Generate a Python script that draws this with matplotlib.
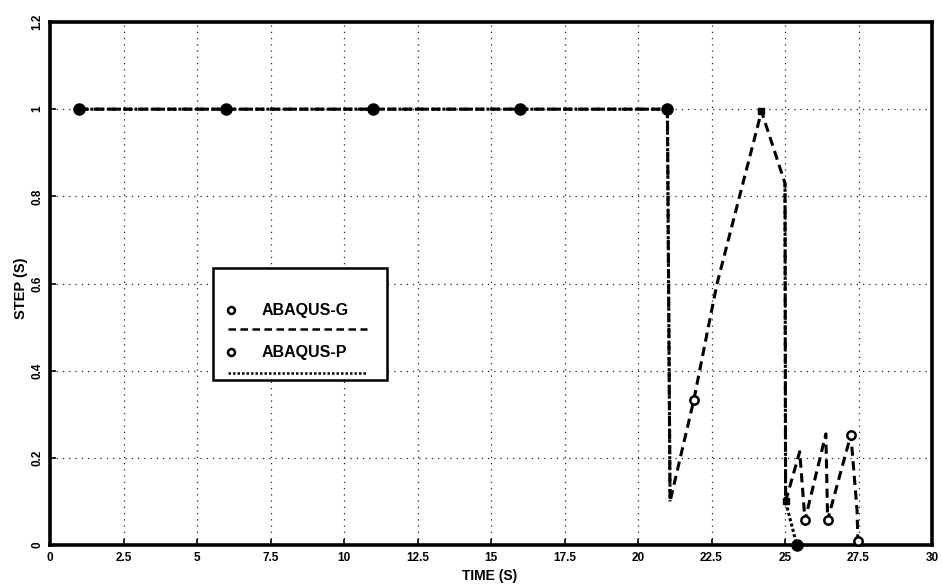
import numpy as np
import matplotlib
matplotlib.use("Agg")
import matplotlib.pyplot as plt
from matplotlib.lines import Line2D
from matplotlib.patches import Rectangle

plt.rcParams['font.family'] = ['Liberation Sans', 'DejaVu Sans']
plt.rcParams['font.weight'] = 'bold'

# ABAQUS-G response (dashed)
time_g = [1, 6, 11, 16, 21, 21.09, 21.9, 22.45, 22.69, 24.2, 25.0, 25.02,
          25.5, 25.68, 26.39, 26.45, 27.24, 27.45, 27.48]
step_g = [1.0, 1.0, 1.0, 1.0, 1.0, 0.10, 0.333, 0.52, 0.60, 0.995, 0.83, 0.10,
          0.214, 0.057, 0.255, 0.057, 0.253, 0.08, 0.01]
marks_g = [6, 13, 15, 16, 18]   # hollow circle markers
square_g = [9, 11]              # small square markers

# ABAQUS-P response (dotted); NaN separates the two traced pieces
time_p = [1, 6, 11, 16, 21, 21.09, np.nan, 25.0, 25.02, 25.4]
step_p = [1.0, 1.0, 1.0, 1.0, 1.0, 0.10, np.nan, 0.83, 0.10, 0.0]
marks_p = [0, 1, 2, 3, 4, 9]

x_ticks = [0, 2.5, 5, 7.5, 10, 12.5, 15, 17.5, 20, 22.5, 25, 27.5, 30]
x_labels = ['0', '2.5', '5', '7.5', '10', '12.5', '15', '17.5', '20', '22.5',
            '25', '27.5', '30']
y_ticks = [0, 0.2, 0.4, 0.6, 0.8, 1.0, 1.2]
y_labels = ['0', '0.2', '0.4', '0.6', '0.8', '1', '1.2']

fig = plt.figure(figsize=(9.42, 5.85), dpi=100)
ax = fig.add_axes([50 / 942, 40 / 585, 882 / 942, 523 / 585])
ax.set_xlim(0, 30)
ax.set_ylim(0, 1.2)

ax.set_xticks(x_ticks)
ax.set_xticklabels(x_labels, fontsize=8.5, fontweight='bold')
ax.set_yticks(y_ticks)
ax.set_yticklabels(y_labels, fontsize=8.5, fontweight='bold', rotation=90,
                   va='center')
ax.tick_params(direction='in', length=4, width=1.2, pad=5)
ax.grid(True, color='#222222', linewidth=0.9, linestyle=(0, (1, 4)))
for s in ax.spines.values():
    s.set_linewidth(2.6)

g_line, = ax.plot(time_g, step_g, color='black', lw=2.2,
                  linestyle=(0, (3, 1.8)), zorder=3)
p_line, = ax.plot(time_p, step_p, color='black', lw=2.2,
                  linestyle=(0, (1, 0.8)), zorder=3)

ax.plot([time_g[i] for i in marks_g], [step_g[i] for i in marks_g],
        linestyle='none', marker='o', ms=6, mfc='white', mec='black',
        mew=1.8, zorder=5, clip_on=False)
ax.plot([time_g[i] for i in square_g], [step_g[i] for i in square_g],
        linestyle='none', marker='s', ms=5, color='black', zorder=5)
ax.plot([time_p[i] for i in marks_p], [step_p[i] for i in marks_p],
        linestyle='none', marker='o', ms=8, color='black', zorder=5,
        clip_on=False)

ax.set_xlabel('TIME (S)', fontsize=10, fontweight='bold', labelpad=0)
ax.xaxis.set_label_coords(0.498, -0.046)
ax.set_ylabel('STEP (S)', fontsize=10.5, fontweight='bold')
ax.yaxis.set_label_coords(-0.025, 0.49)

# legend box: marker + name, with the line sample underneath
bx0, bx1 = (213 - 50) / 882, (387 - 50) / 882
by0, by1 = (545 - 380) / 523, (545 - 268) / 523
ax.add_patch(Rectangle((bx0, by0), bx1 - bx0, by1 - by0, transform=ax.transAxes,
                       fill=True, facecolor='white', edgecolor='black',
                       lw=1.8, zorder=6))
entries = [('ABAQUS-G', (0, (3, 1.8)), 310, 329),
           ('ABAQUS-P', (0, (1, 0.8)), 352, 373)]
for name, ls, ty, ly in entries:
    yt = (545 - ty) / 523
    yl = (545 - ly) / 523
    ax.add_line(Line2D([(231 - 50) / 882], [yt], transform=ax.transAxes,
                       marker='o', ms=5, mfc='white', mec='black', mew=1.8,
                       linestyle='none', zorder=7))
    ax.text((262 - 50) / 882, yt, name, transform=ax.transAxes, fontsize=11.5,
            fontweight='bold', va='center', ha='left', zorder=7)
    ax.add_line(Line2D([(228 - 50) / 882, (367 - 50) / 882], [yl, yl],
                       transform=ax.transAxes, color='black', lw=1.8,
                       linestyle=ls, zorder=7))

fig.savefig('out.png', dpi=100)
